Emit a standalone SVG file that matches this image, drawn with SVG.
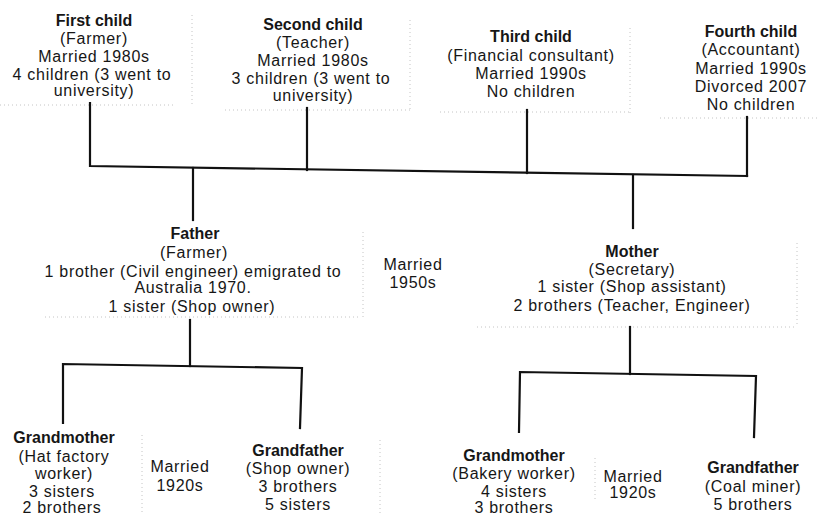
<svg xmlns="http://www.w3.org/2000/svg" width="825" height="516" viewBox="0 0 825 516">
<style>
text{font-family:"Liberation Sans",Arial,sans-serif;font-size:16px;fill:#161616;text-anchor:middle;letter-spacing:0.7px}
.t{font-weight:bold;letter-spacing:0px}
.c{fill:none;stroke:#111;stroke-width:2.2;stroke-linecap:square}
.d{fill:none;stroke:#c4c4c4;stroke-width:1;stroke-dasharray:1 3}
</style>
<rect width="825" height="516" fill="#fff"/>
<g id="frames">
<path class="d" d="M192,15 V105 M0,105 H175"/>
<path class="d" d="M410,20 V110 M225,110 H410"/>
<path class="d" d="M630,28 V115 M440,112 H630"/>
<path class="d" d="M660,118 H820"/>
<path class="d" d="M45,317 H360 M363,232 V317"/>
<path class="d" d="M477,327 H797 M797,243 V327"/>
<path class="d" d="M142,435 V515 M380,440 V515 M595,458 V500"/>
</g>
<g id="connectors">
<path class="c" d="M90,103 V166 L747,176"/>
<path class="c" d="M307,108 V170"/>
<path class="c" d="M527,110 V173"/>
<path class="c" d="M747,117 V176"/>
<path class="c" d="M193,168 V220"/>
<path class="c" d="M633,175 V228"/>
<path class="c" d="M190,320 V366"/>
<path class="c" d="M63,423 V364 L302,368 L300,428"/>
<path class="c" d="M630,327 V374"/>
<path class="c" d="M519,432 L520,372 L756,376 L754,437"/>
</g>
<g id="first-child">
<text class="t" x="94" y="26">First child</text>
<text x="94" y="44">(Farmer)</text>
<text x="94" y="62">Married 1980s</text>
<text x="92" y="79.5">4 children (3 went to</text>
<text x="94" y="96">university)</text>
</g>
<g id="second-child">
<text class="t" x="313" y="30">Second child</text>
<text x="313" y="48">(Teacher)</text>
<text x="313" y="66">Married 1980s</text>
<text x="311" y="84">3 children (3 went to</text>
<text x="313" y="101">university)</text>
</g>
<g id="third-child">
<text class="t" x="531" y="42">Third child</text>
<text x="531" y="61">(Financial consultant)</text>
<text x="531" y="79">Married 1990s</text>
<text x="531" y="97">No children</text>
</g>
<g id="fourth-child">
<text class="t" x="751" y="37">Fourth child</text>
<text x="751" y="55">(Accountant)</text>
<text x="751" y="74">Married 1990s</text>
<text x="751" y="92">Divorced 2007</text>
<text x="751" y="110">No children</text>
</g>
<g id="father">
<text class="t" x="195" y="239">Father</text>
<text x="194" y="258">(Farmer)</text>
<text x="193" y="277">1 brother (Civil engineer) emigrated to</text>
<text x="193" y="293">Australia 1970.</text>
<text x="192" y="312">1 sister (Shop owner)</text>
</g>
<g id="married-1950s">
<text x="413" y="270">Married</text>
<text x="413" y="288">1950s</text>
</g>
<g id="mother">
<text class="t" x="632" y="257">Mother</text>
<text x="632" y="275">(Secretary)</text>
<text x="632" y="292">1 sister (Shop assistant)</text>
<text x="632" y="311">2 brothers (Teacher, Engineer)</text>
</g>
<g id="grandmother-paternal">
<text class="t" x="64" y="443">Grandmother</text>
<text x="64" y="462">(Hat factory</text>
<text x="64" y="479">worker)</text>
<text x="62" y="497">3 sisters</text>
<text x="62" y="513">2 brothers</text>
</g>
<g id="married-1920s-paternal">
<text x="180" y="472">Married</text>
<text x="180" y="491">1920s</text>
</g>
<g id="grandfather-paternal">
<text class="t" x="298" y="456">Grandfather</text>
<text x="298" y="474">(Shop owner)</text>
<text x="298" y="492">3 brothers</text>
<text x="298" y="510">5 sisters</text>
</g>
<g id="grandmother-maternal">
<text class="t" x="514" y="461">Grandmother</text>
<text x="514" y="479">(Bakery worker)</text>
<text x="514" y="497">4 sisters</text>
<text x="514" y="513">3 brothers</text>
</g>
<g id="married-1920s-maternal">
<text x="633" y="482">Married</text>
<text x="633" y="498">1920s</text>
</g>
<g id="grandfather-maternal">
<text class="t" x="753" y="473">Grandfather</text>
<text x="753" y="492">(Coal miner)</text>
<text x="753" y="510">5 brothers</text>
</g>
</svg>
